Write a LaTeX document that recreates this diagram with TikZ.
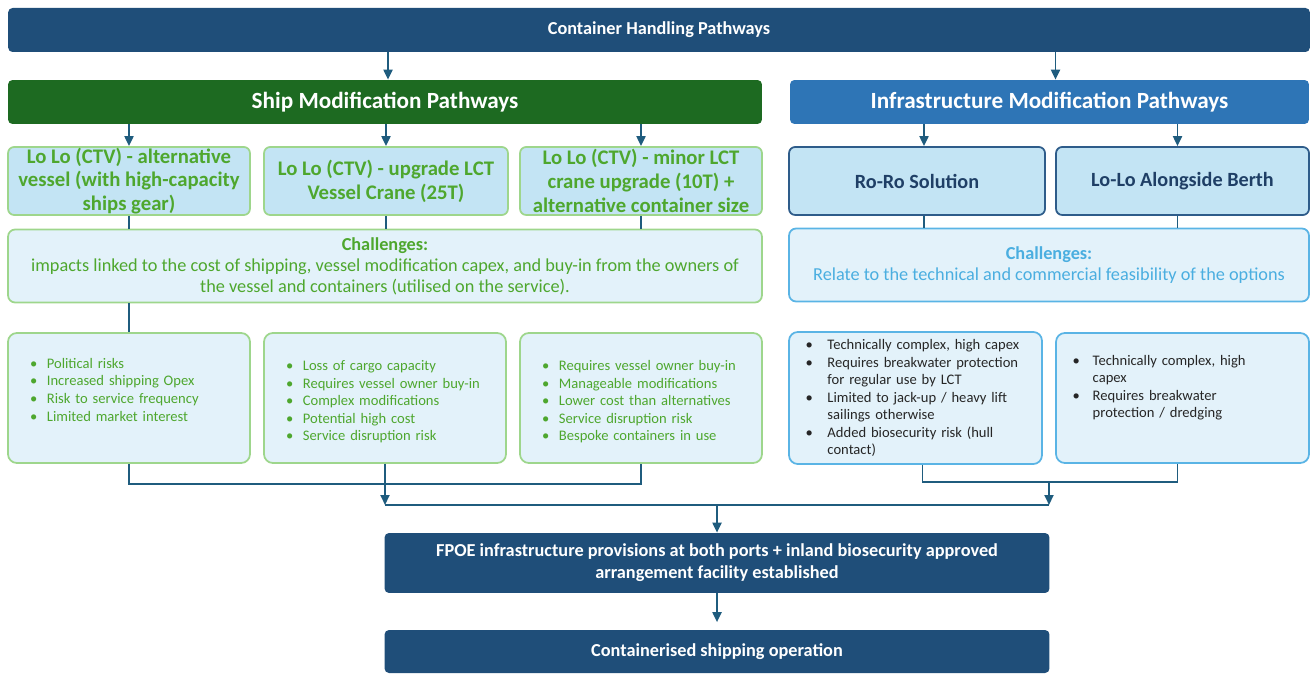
\documentclass[tikz,border=0pt]{standalone}
\usepackage{fontspec}
\setmainfont{Carlito}
\usetikzlibrary{arrows.meta, positioning, calc}
\definecolor{navyBar}{HTML}{1F4E79}
\definecolor{greenBar}{HTML}{1D6A21}
\definecolor{blueBar}{HTML}{2E75B6}
\definecolor{optFill}{HTML}{C3E4F4}
\definecolor{lightFill}{HTML}{E3F2FA}
\definecolor{greenEdge}{HTML}{9ED68C}
\definecolor{greenTxt}{HTML}{4EA72E}
\definecolor{roroEdge}{HTML}{2E5C8A}
\definecolor{roroTxt}{HTML}{1F3F66}
\definecolor{skyEdge}{HTML}{5AB4E5}
\definecolor{skyTxt}{HTML}{4AAEE0}
\definecolor{lineCol}{HTML}{1F5C7E}
\newenvironment{bullets}[1][9.6pt]{\begin{list}{\textbullet}{\setlength{\leftmargin}{#1}\setlength{\labelwidth}{#1}\setlength{\labelsep}{0pt}\setlength{\itemindent}{0pt}\setlength{\itemsep}{0pt}\setlength{\parsep}{0pt}\setlength{\topsep}{0pt}\setlength{\partopsep}{0pt}\renewcommand{\makelabel}[1]{##1\hfill}}}{\end{list}}

\begin{document}
\begin{tikzpicture}[x=0.02cm, y=-0.02cm,
  bar/.style={rounded corners=2.5pt, text=white, align=center, inner sep=0pt, minimum height=0.88cm},
  optbox/.style={draw=greenEdge, line width=1pt, fill=optFill, rounded corners=3.5pt, minimum width=4.84cm, minimum height=1.36cm, inner sep=0pt, align=center, text=greenTxt, font=\fontsize{11.8}{13.6}\selectfont\bfseries},
  infbox/.style={optbox, draw=roroEdge, text=roroTxt, minimum width=5.08cm, font=\fontsize{11.5}{13.6}\selectfont\bfseries},
  chalbox/.style={draw=greenEdge, line width=1pt, fill=lightFill, rounded corners=4pt, minimum height=1.46cm, inner sep=0pt, align=center, text=greenTxt, font=\fontsize{10.4}{12}\selectfont},
  bulbox/.style={draw=greenEdge, line width=1pt, fill=lightFill, rounded corners=5pt, minimum width=4.84cm, minimum height=2.6cm, inner sep=0pt, text width=3.96cm, align=left, text=greenTxt, font=\fontsize{8.3}{10}\selectfont},
  rbulbox/.style={bulbox, draw=skyEdge, text=black!85, minimum width=5.06cm, text width=4.4cm},
  endbox/.style={bar, fill=navyBar, minimum width=13.3cm, font=\fontsize{10.4}{12.5}\selectfont\bfseries},
  arr/.style={-{Triangle[length=2mm, width=1.8mm]}, line width=1.1pt, draw=lineCol, fill=lineCol},
  link/.style={line width=1.1pt, draw=lineCol},
]
  % header and the two pathway bars
  \node[bar, fill=navyBar, minimum width=26.04cm, font=\fontsize{10.4}{12}\selectfont\bfseries] (head) at (659,30) {Container Handling Pathways};
  \node[bar, fill=greenBar, minimum width=15.08cm, font=\fontsize{13.2}{15}\selectfont\bfseries] (ship) at (385,102) {Ship Modification Pathways};
  \node[bar, fill=blueBar, minimum width=10.38cm, font=\fontsize{13.2}{15}\selectfont\bfseries] (infra) at (1049.5,102) {Infrastructure Modification Pathways};

  % options
  \node[optbox] (opt1) at (129,181) {Lo Lo (CTV) - alternative\\vessel (with high-capacity\\ships gear)};
  \node[optbox, minimum width=4.88cm] (opt2) at (386,181) {Lo Lo (CTV) - upgrade LCT\\Vessel Crane (25T)};
  \node[optbox] (opt3) at (641,181) {Lo Lo (CTV) - minor LCT\\crane upgrade (10T) +\\alternative container size};
  \node[infbox, minimum width=5.12cm] (roro) at (917,181) {Ro-Ro Solution};
  \node[infbox, minimum width=5.06cm] (lolo) at (1182.5,181) {Lo-Lo Alongside Berth};

  % challenges
  \node[chalbox, minimum width=15.08cm] (chal1) at (385,266) {\textbf{Challenges:}\\impacts linked to the cost of shipping, vessel modification capex, and buy-in from the owners of\\the vessel and containers (utilised on the service).};
  \node[chalbox, draw=skyEdge, text=skyTxt, minimum width=10.4cm] (chal2) at (1049,265) {\textbf{Challenges:}\\Relate to the technical and commercial feasibility of the options};

  % bullet boxes
  \node[bulbox] (b1) at (129,398) {\begin{bullets}\item Political risks \item Increased shipping Opex \item Risk to service frequency \item Limited market interest\end{bullets}\vspace{13.6pt}};
  \node[bulbox] (b2) at (385,398) {\begin{bullets}\item Loss of cargo capacity \item Requires vessel owner buy-in \item Complex modifications \item Potential high cost \item Service disruption risk\end{bullets}};
  \node[bulbox] (b3) at (641,398) {\begin{bullets}\item Requires vessel owner buy-in \item Manageable modifications \item Lower cost than alternatives \item Service disruption risk \item Bespoke containers in use\end{bullets}};
  \node[rbulbox] (r1) at (915.5,398) {\begin{bullets}[12.5pt]\item Technically complex, high capex \item Requires breakwater protection\newline for regular use by LCT \item Limited to jack-up / heavy lift\newline sailings otherwise \item Added biosecurity risk (hull\newline contact)\end{bullets}\vspace{4pt}};
  \node[rbulbox] (r2) at (1182.5,398) {\begin{bullets}[11.5pt]\item Technically complex, high\newline capex \item Requires breakwater\newline protection / dredging\end{bullets}\vspace{16pt}};

  % outcome boxes
  \node[endbox, minimum height=1.2cm] (fpoe) at (717,563) {FPOE infrastructure provisions at both ports + inland biosecurity approved\\arrangement facility established};
  \node[endbox, minimum height=0.86cm] (final) at (717,651.5) {Containerised shipping operation};

  % connectors
  \draw[arr] ([xshift=0.04cm]head.south -| opt2.north) -- ([xshift=0.04cm]ship.north -| opt2.north);
  \draw[arr] ([xshift=0.12cm]head.south -| infra.north) -- ([xshift=0.12cm]infra.north);
  \foreach \o in {opt1, opt2, opt3} {
    \draw[arr] (ship.south -| \o.north) -- (\o.north);
    \draw[link] (\o.south) -- (\o.south |- chal1.north);
  }
  \draw[arr] ([xshift=0.14cm]infra.south -| roro.north) -- ([xshift=0.14cm]roro.north);
  \draw[link] ([xshift=0.14cm]roro.south) -- ([xshift=0.14cm]roro.south |- chal2.north);
  \draw[arr] ([xshift=-0.1cm]infra.south -| lolo.north) -- ([xshift=-0.1cm]lolo.north);
  \draw[link] ([xshift=-0.1cm]lolo.south) -- ([xshift=-0.1cm]lolo.south |- chal2.north);
  \draw[link] (chal1.south -| b1.north) -- (b1.north);

  \coordinate (mrg) at (717,505);
  \coordinate (rj) at ($(r1.south)!0.5!(r2.south)+(0,17)$);
  \draw[link] (b1.south) -- ++(0,20) -| (b3.south);
  \draw[link] ([xshift=0.14cm]r1.south) -- ++(0,17) -| ([xshift=-0.1cm]r2.south);
  \draw[link] (b2.south |- mrg) -- (rj |- mrg);
  \draw[arr] (b2.south) -- (b2.south |- mrg);
  \draw[arr] (rj) -- (rj |- mrg);
  \draw[arr] (fpoe.north |- mrg) -- (fpoe.north);
  \draw[arr, shorten >=1.5mm] (fpoe) -- (final);

  \useasboundingbox (0,0) rectangle (1311,675);
\end{tikzpicture}
\end{document}
